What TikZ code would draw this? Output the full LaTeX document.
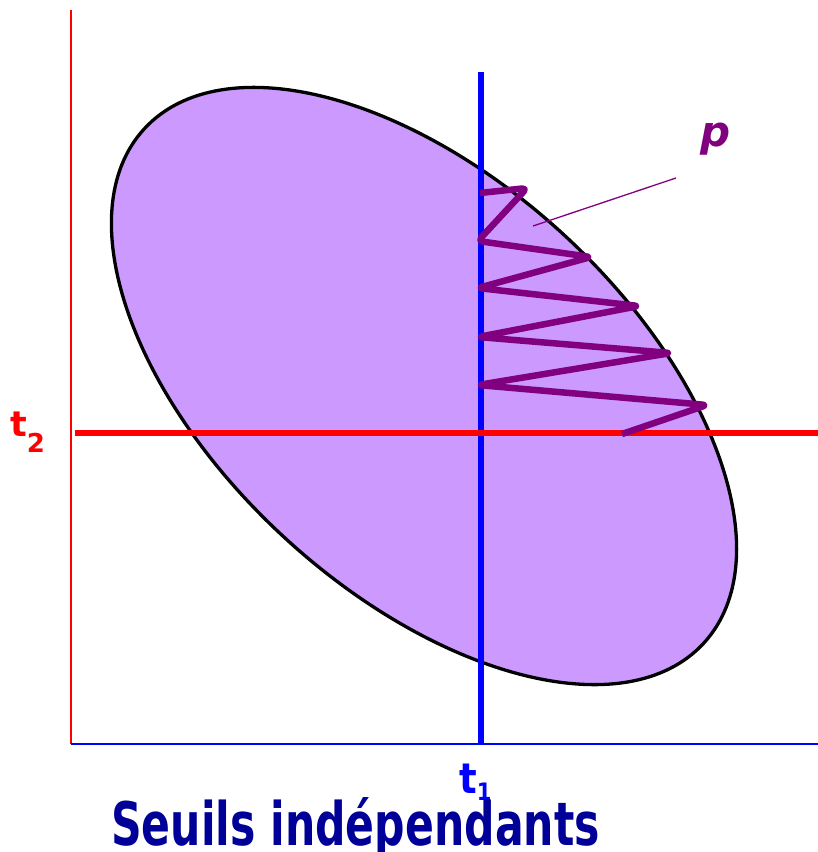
\documentclass[tikz,border=0pt]{standalone}
\usepackage{fontspec}
\usepackage{graphicx}
\newfontfamily\djv{DejaVu Sans}
\definecolor{lav}{RGB}{204,153,255}
\definecolor{plum}{RGB}{128,0,128}
\definecolor{navy}{RGB}{0,0,153}
\begin{document}
\begin{tikzpicture}[x=1pt,y=-1pt,
  axisR/.style={red,line width=1.6pt},
  axisB/.style={blue,line width=1.6pt},
  thr/.style={line width=6pt},
  lbl/.style={inner sep=0pt,font=\djv\bfseries},
]
\useasboundingbox (0,0) rectangle (818,852);
% axes
\draw[axisR] (71,10) -- (71,744);
\draw[axisB] (71,744) -- (818,744);
% ellipse
\draw[black,line width=3.3pt,fill=lav,rotate around={-42.6:(424,386)}] (424,386) ellipse [x radius=380, y radius=206];
% thresholds
\draw[blue,thr] (481,72) -- (481,744);
\draw[red,thr] (75,433) -- (818,433);
% zigzag
\draw[plum,line width=6.5pt,line join=round,rounded corners=5pt] (480,193) -- (527,188) -- (478,241) -- (591,257) -- (478,288) -- (639,306) -- (478,337) -- (671,353) -- (478,385) -- (707,405) -- (622,434);
% pointer
\coordinate (pa) at (533,226);
\coordinate (pb) at (676,178);
\draw[plum,line width=1.3pt] (pa) -- (pb);
% labels
\node[lbl,plum,anchor=base west] (plab) at (700,146) {\fontsize{42}{48}\selectfont\itshape p};
\node[lbl,red,anchor=base west] (t2lab) at (10,436) {\fontsize{35}{40}\selectfont t\raisebox{-16pt}{\fontsize{26}{30}\selectfont 2}};
\node[lbl,blue,anchor=base west] (t1lab) at (459,793) {\scalebox{0.88}[1]{\fontsize{42}{48}\selectfont t\raisebox{-7pt}{\fontsize{24}{28}\selectfont 1}}};
\node[lbl,navy,anchor=base west] (title) at (111,845) {\scalebox{0.71}[1]{\fontsize{60}{70}\selectfont Seuils indépendants}};
\end{tikzpicture}
\end{document}
